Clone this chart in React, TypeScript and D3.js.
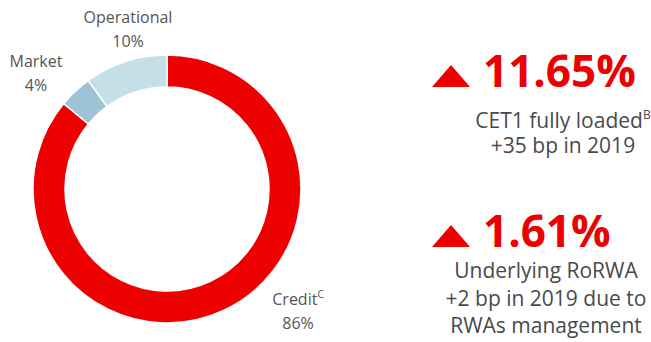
import React from "react";
import * as d3 from "d3";

const categories = ["Credit", "Market", "Operational"];
const shares = [86, 4, 10];
const sliceColors = ["#EC0000", "#9DC4D4", "#C4DFE8"];
const labelLines = [
  ["Credit", "86%"],
  ["Market", "4%"],
  ["Operational", "10%"],
];
const labelSup = ["C", "", ""];

const kpiValues = ["11.65%", "1.61%"];
const kpiLines = [
  ["CET1 fully loaded", "+35 bp in 2019"],
  ["Underlying RoRWA", "+2 bp in 2019 due to", "RWAs management"],
];
const kpiSup = ["B", ""];

const W = 651;
const H = 342;
const cx = 167;
const cy = 189;
const rOuter = 134;
const rInner = 102;
const RED = "#EC0000";
const GREY = "#4a4a4a";
const FONT = "'Open Sans', 'Noto Sans', sans-serif";

// label positions (x anchor, first baseline, anchor)
const labelPos: [number, number, string][] = [
  [298, 305, "middle"],
  [36, 67, "middle"],
  [128, 23, "middle"],
];

export default function App() {
  const pie = d3
    .pie<number>()
    .sort(null)
    .value((d) => d)
    .startAngle(0)
    .endAngle(2 * Math.PI);
  const arcs = pie(shares);
  const arc = d3.arc<d3.PieArcDatum<number>>().innerRadius(rInner).outerRadius(rOuter);

  const kpiTop = [87, 247];
  const kpiLineY = [
    [128, 153],
    [278, 306, 333],
  ];
  const kpiCenter = [563, 546];

  return (
    <svg
      width={W}
      height={H}
      style={{ position: "absolute", left: 0, top: 0, background: "#fff" }}
      fontFamily={FONT}
    >
      <rect width={W} height={H} fill="#fff" />
      <g transform={`translate(${cx},${cy})`}>
        {arcs.map((a, i) => (
          <path key={categories[i]} d={arc(a) || ""} fill={sliceColors[i]} stroke="#fff" strokeWidth={1.5} />
        ))}
      </g>
      {labelLines.map((lines, i) => {
        const [x, y, anchor] = labelPos[i];
        return (
          <g key={i} fill="#555" fontSize={16}>
            <text x={x} y={y} textAnchor={anchor as any}>
              {lines[0]}
              {labelSup[i] ? (
                <tspan fontSize={10} dy={-7}>
                  {labelSup[i]}
                </tspan>
              ) : null}
            </text>
            <text x={x} y={y + 24} textAnchor={anchor as any}>
              {lines[1]}
            </text>
          </g>
        );
      })}
      {kpiValues.map((v, i) => {
        const base = kpiTop[i];
        return (
          <g key={v}>
            <path
              d={`M432,${base} L451,${base - 22} L470,${base} Z`}
              fill={RED}
            />
            <text x={483} y={base} fill={RED} fontSize={44} fontWeight={700}>
              {v}
            </text>
            <text fill={GREY} fontSize={21} textAnchor="middle">
              {kpiLines[i].map((t, j) => (
                <React.Fragment key={j}>
                  <tspan x={kpiCenter[i]} y={kpiLineY[i][j]}>
                    {t}
                  </tspan>
                  {j === 0 && kpiSup[i] ? (
                    <tspan fontSize={12} dy={-9}>
                      {kpiSup[i]}
                    </tspan>
                  ) : null}
                </React.Fragment>
              ))}
            </text>
          </g>
        );
      })}
    </svg>
  );
}
